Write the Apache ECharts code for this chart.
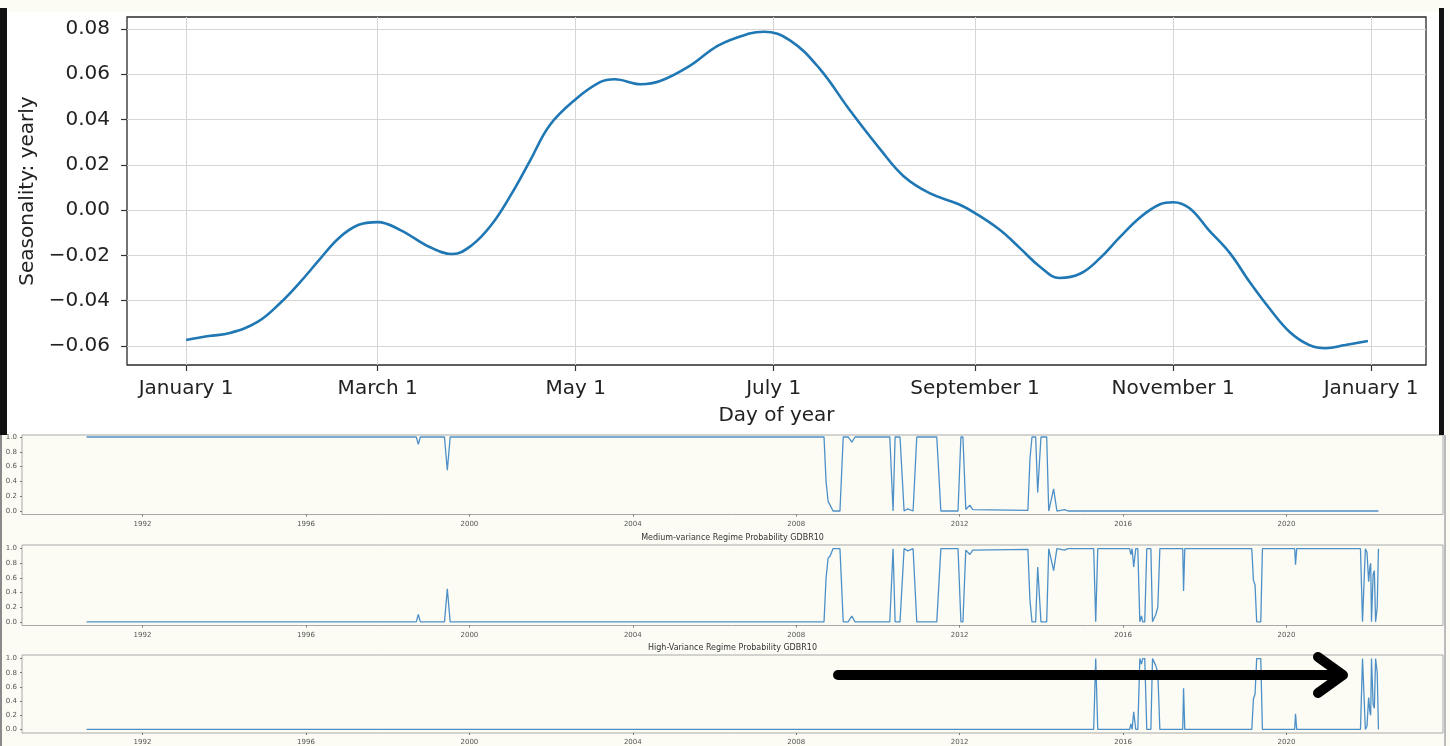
<!DOCTYPE html>
<html>
<head>
<meta charset="utf-8">
<script src="https://cdn.jsdelivr.net/npm/echarts@6/dist/echarts.min.js"></script>
<style>
html,body{margin:0;padding:0;background:#fcfcf5;}
#chart{width:1450px;height:746px;}
</style>
</head>
<body>
<div id="chart"></div>
<script>
// ---------- Top chart: yearly seasonality ----------
const seasonDays = [0, 7, 13.5, 22, 29, 35, 41, 47, 53, 59, 66, 75, 82, 88, 94, 100, 106, 112, 120, 127.5, 132, 140, 146, 155, 164, 173.5, 178, 186, 195, 204.5, 214, 221, 229, 238, 243, 250.7, 257, 263, 269, 275.5, 281.5, 287.6, 294, 300, 304, 309, 315, 321.5, 327.7, 334, 340, 346, 351, 357, 364];
const seasonValues = [-0.0574, -0.0556, -0.0543, -0.0494, -0.041, -0.032, -0.022, -0.0124, -0.0066, -0.0053, -0.0088, -0.0163, -0.0194, -0.0155, -0.0066, 0.0066, 0.022, 0.0375, 0.049, 0.0565, 0.0578, 0.0556, 0.057, 0.0636, 0.0728, 0.078, 0.0788, 0.075, 0.0627, 0.044, 0.0265, 0.015, 0.0075, 0.0026, -0.0013, -0.0088, -0.017, -0.025, -0.030, -0.028, -0.0212, -0.0119, -0.003, 0.0026, 0.0035, 0.0009, -0.0088, -0.019, -0.032, -0.044, -0.0539, -0.0596, -0.061, -0.0596, -0.0578];
const monthTickDays = [0, 59, 120, 181, 243, 304, 365];
const monthTickLabels = ['January 1', 'March 1', 'May 1', 'July 1', 'September 1', 'November 1', 'January 1'];
const seasonYTicks = [-0.06, -0.04, -0.02, 0.00, 0.02, 0.04, 0.06, 0.08];

// ---------- Bottom panels: regime probabilities ----------
const regimeYears = [1990.63, 1998.70, 1998.75, 1998.80, 1999.39, 1999.46, 1999.53, 2008.68, 2008.73, 2008.78, 2008.83, 2008.90, 2009.07, 2009.15, 2009.27, 2009.36, 2009.44, 2010.29, 2010.37, 2010.42, 2010.54, 2010.64, 2010.73, 2010.86, 2010.95, 2011.44, 2011.54, 2011.96, 2012.03, 2012.08, 2012.15, 2012.25, 2012.32, 2013.67, 2013.72, 2013.77, 2013.86, 2013.91, 2013.99, 2014.13, 2014.18, 2014.30, 2014.38, 2014.57, 2014.65, 2015.28, 2015.33, 2015.38, 2016.16, 2016.19, 2016.22, 2016.26, 2016.31, 2016.36, 2016.41, 2016.45, 2016.48, 2016.53, 2016.58, 2016.68, 2016.72, 2016.80, 2016.85, 2016.90, 2017.46, 2017.48, 2017.51, 2019.15, 2019.19, 2019.23, 2019.27, 2019.37, 2019.41, 2020.20, 2020.22, 2020.25, 2021.81, 2021.86, 2021.93, 2021.97, 2022.01, 2022.04, 2022.06, 2022.08, 2022.12, 2022.15, 2022.18, 2022.22, 2022.25];
const lowVarProb = [1, 1, 0.9, 1, 1, 0.55, 1, 1, 0.4, 0.13, 0.08, 0, 0, 1, 1, 0.93, 1, 1, 0, 1, 1, 0, 0.03, 0, 1, 1, 0, 0, 1, 1, 0.02, 0.08, 0.02, 0.01, 0.7, 1, 1, 0.25, 1, 1, 0, 0.3, 0, 0.02, 0, 0, 0, 0, 0, 0, 0, 0, 0, 0, 0, 0, 0, 0, 0, 0, 0, 0, 0, 0, 0, 0, 0, 0, 0, 0, 0, 0, 0, 0, 0, 0, 0, 0, 0, 0, 0, 0, 0, 0, 0, 0, 0, 0, 0];
const medVarProb = [0, 0, 0.1, 0, 0, 0.45, 0, 0, 0.6, 0.87, 0.9, 1, 1, 0, 0, 0.08, 0, 0, 1, 0, 0, 1, 0.97, 1, 0, 0, 1, 1, 0, 0, 0.98, 0.92, 0.98, 0.99, 0.3, 0, 0, 0.75, 0, 0, 1, 0.7, 1, 0.98, 1, 1, 0, 1, 1, 0.92, 1, 0.75, 1, 1, 0, 0.08, 0, 0, 1, 1, 0, 0.1, 0.2, 1, 1, 0.42, 1, 1, 0.57, 0.5, 0, 0, 1, 1, 0.78, 1, 1, 0, 1, 0.95, 0.55, 0.75, 0.8, 0, 0.65, 0.7, 0, 0.2, 1];
const highVarProb = [0, 0, 0, 0, 0, 0, 0, 0, 0, 0, 0, 0, 0, 0, 0, 0, 0, 0, 0, 0, 0, 0, 0, 0, 0, 0, 0, 0, 0, 0, 0, 0, 0, 0, 0, 0, 0, 0, 0, 0, 0, 0, 0, 0, 0, 0, 1, 0, 0, 0.08, 0, 0.25, 0, 0, 1, 0.92, 1, 1, 0, 0, 1, 0.9, 0.8, 0, 0, 0.58, 0, 0, 0.43, 0.5, 1, 1, 0, 0, 0.22, 0, 0, 1, 0, 0.05, 0.45, 0.25, 0.2, 1, 0.35, 0.3, 1, 0.8, 0];
const yearTicks = [1992, 1996, 2000, 2004, 2008, 2012, 2016, 2020];
const probTicks = [0, 0.2, 0.4, 0.6, 0.8, 1.0];
const panelTitles = ['Medium-variance Regime Probability GDBR10', 'High-Variance Regime Probability GDBR10'];

const FONT = 'DejaVu Sans';
const pairs = (xs, ys) => xs.map((x, i) => [x, ys[i]]);
const fmtMinus = v => (v < 0 ? '\u2212' + Math.abs(v).toFixed(2) : v.toFixed(2));

const panels = [
  {top: 435, height: 79.5, min: -0.047, max: 1.027, data: lowVarProb},
  {top: 545, height: 80.5, min: -0.05, max: 1.05, data: medVarProb},
  {top: 655, height: 82, min: -0.05, max: 1.05, data: highVarProb}
];

const grids = [{left: 127, top: 17, width: 1299, height: 348, show: true, backgroundColor: '#ffffff', borderColor: '#2a2a2a', borderWidth: 1.3}];
const xAxes = [{
  type: 'value', gridIndex: 0, min: -18.2, max: 381.9,
  name: 'Day of year', nameLocation: 'middle', nameGap: 41,
  nameTextStyle: {fontFamily: FONT, fontSize: 20, color: '#222'},
  axisLine: {show: false, onZero: false},
  axisTick: {show: true, length: 6, customValues: monthTickDays, lineStyle: {color: '#333', width: 1.2}},
  axisLabel: {customValues: monthTickDays, margin: 14, fontFamily: FONT, fontSize: 20, color: '#222',
    formatter: v => monthTickLabels[monthTickDays.indexOf(v)]},
  splitLine: {show: true, lineStyle: {color: '#d6d6d6', width: 1}}
}];
const yAxes = [{
  type: 'value', gridIndex: 0, min: -0.0684, max: 0.0853,
  name: 'Seasonality: yearly', nameLocation: 'middle', nameGap: 88, nameRotate: 90,
  nameTextStyle: {fontFamily: FONT, fontSize: 20, color: '#222'},
  axisLine: {show: false, onZero: false},
  axisTick: {show: true, length: 6, customValues: seasonYTicks, lineStyle: {color: '#333', width: 1.2}},
  axisLabel: {customValues: seasonYTicks, margin: 17, fontFamily: FONT, fontSize: 20, color: '#222', formatter: fmtMinus},
  splitLine: {show: true, lineStyle: {color: '#d6d6d6', width: 1}}
}];
const series = [{
  type: 'line', xAxisIndex: 0, yAxisIndex: 0, data: pairs(seasonDays, seasonValues),
  smooth: 0.4, showSymbol: false, lineStyle: {color: '#1f77b4', width: 2.6}
}];

panels.forEach((p, i) => {
  const gi = i + 1;
  grids.push({left: 22, top: p.top, width: 1421, height: p.height, show: true, backgroundColor: '#fcfcf5', borderColor: '#a8a8a8', borderWidth: 1});
  xAxes.push({
    type: 'value', gridIndex: gi, min: 1989.05, max: 2023.83,
    axisLine: {show: false, onZero: false},
    axisTick: {show: true, length: 2, customValues: yearTicks, lineStyle: {color: '#777'}},
    axisLabel: {customValues: yearTicks, margin: 6, fontFamily: FONT, fontSize: 7, color: '#555', formatter: v => String(v)},
    splitLine: {show: false}
  });
  yAxes.push({
    type: 'value', gridIndex: gi, min: p.min, max: p.max,
    axisLine: {show: false, onZero: false},
    axisTick: {show: true, length: 2, customValues: probTicks, lineStyle: {color: '#777'}},
    axisLabel: {customValues: probTicks, margin: 5, fontFamily: FONT, fontSize: 7, color: '#555', formatter: v => v.toFixed(1)},
    splitLine: {show: false}
  });
  series.push({
    type: 'line', xAxisIndex: gi, yAxisIndex: gi, data: pairs(regimeYears, p.data),
    showSymbol: false, smooth: false, lineStyle: {color: '#4d90c8', width: 1.3}
  });
});

const chart = echarts.init(document.getElementById('chart'), null, {renderer: 'canvas'});
chart.setOption({
  animation: false,
  backgroundColor: '#fcfcf5',
  grid: grids,
  xAxis: xAxes,
  yAxis: yAxes,
  series: series,
  graphic: [
    {type: 'rect', z: -10, shape: {x: 7, y: 12, width: 1432, height: 423}, style: {fill: '#ffffff'}},
    {type: 'rect', z: 50, shape: {x: 0, y: 8, width: 7, height: 427}, style: {fill: '#111111'}},
    {type: 'rect', z: 50, shape: {x: 1439, y: 8, width: 5, height: 427}, style: {fill: '#111111'}},
    {type: 'rect', z: 50, shape: {x: 0, y: 435, width: 2, height: 311}, style: {fill: '#8a8a8a'}},
    {type: 'rect', z: 50, shape: {x: 1444, y: 435, width: 2, height: 311}, style: {fill: '#bbbbbb'}},
    {type: 'text', z: 50, x: 732.5, y: 538, style: {text: panelTitles[0], fontFamily: FONT, fontSize: 8, fill: '#333', align: 'center', verticalAlign: 'middle'}},
    {type: 'text', z: 50, x: 732.5, y: 648, style: {text: panelTitles[1], fontFamily: FONT, fontSize: 8, fill: '#333', align: 'center', verticalAlign: 'middle'}},
    {type: 'polyline', z: 100, shape: {points: [[838, 675], [1338, 675]]}, style: {stroke: '#000', lineWidth: 10, lineCap: 'round', fill: null}},
    {type: 'polyline', z: 100, shape: {points: [[1318, 657], [1343, 675], [1318, 693]]}, style: {stroke: '#000', lineWidth: 10, lineCap: 'round', lineJoin: 'round', fill: null}}
  ]
});
</script>
</body>
</html>
